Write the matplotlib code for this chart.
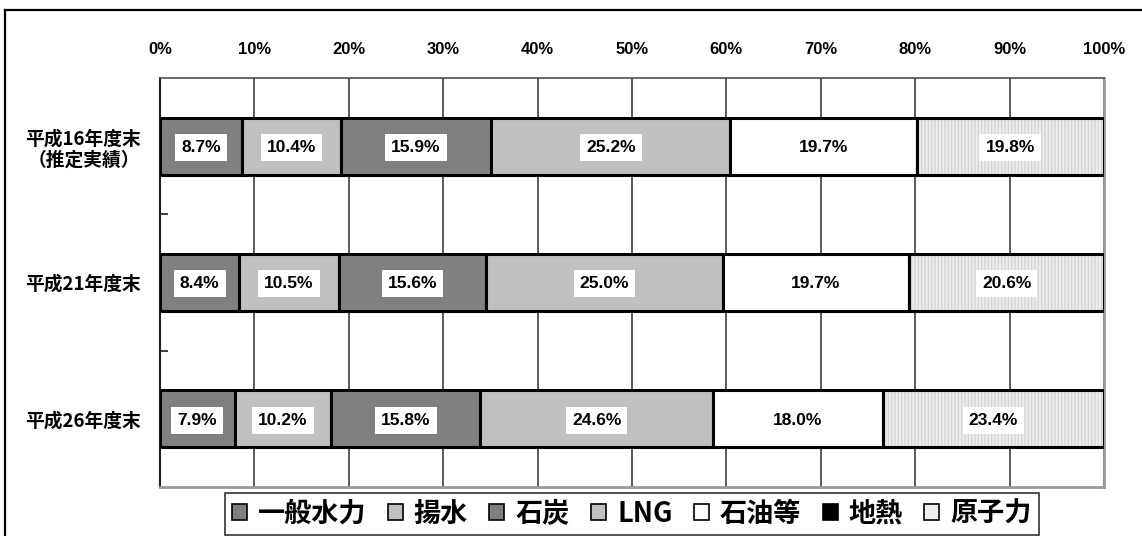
import numpy as np
import matplotlib.pyplot as plt
from matplotlib.patches import Patch
from matplotlib.lines import Line2D

# data
years = ['平成16年度末\n（推定実績）', '平成21年度末', '平成26年度末']
sources = ['一般水力', '揚水', '石炭', 'LNG', '石油等', '地熱', '原子力']
hydro = [8.7, 8.4, 7.9]
pumped = [10.4, 10.5, 10.2]
coal = [15.9, 15.6, 15.8]
lng = [25.2, 25.0, 24.6]
oil = [19.7, 19.7, 18.0]
geothermal = [0.0, 0.0, 0.0]
nuclear = [19.8, 20.6, 23.4]
xticks = [0, 10, 20, 30, 40, 50, 60, 70, 80, 90, 100]

colors = ['#808080', '#c0c0c0', '#808080', '#c0c0c0', '#ffffff', '#000000', '#eeeeee']
hatches = [None, None, None, None, None, None, '|||||']

CJK = ['Noto Sans CJK JP', 'DejaVu Sans']
NUM = ['Liberation Sans', 'DejaVu Sans']

series = np.array([hydro, pumped, coal, lng, oil, geothermal, nuclear])
totals = series.sum(axis=0)
shares = series / totals * 100  # 100% stacked, like the original

fig = plt.figure(figsize=(11.42, 5.36), dpi=100)
ax = fig.add_axes([160 / 1142, 49 / 536, 944 / 1142, 409 / 536])

y = np.arange(len(years))
left = np.zeros(len(years))
for i, name in enumerate(sources):
    w = shares[i]
    if hatches[i]:
        ax.barh(y, w, left=left, height=0.42, color=colors[i], hatch=hatches[i],
                edgecolor='#d4d4d4', linewidth=0, zorder=3)
        ax.barh(y, w, left=left, height=0.42, fill=False, edgecolor='black',
                linewidth=2.2, zorder=4)
    else:
        ax.barh(y, w, left=left, height=0.42, color=colors[i], edgecolor='black',
                linewidth=2.2, zorder=3)
    for j in range(len(years)):
        if series[i][j] > 0:
            ax.text(left[j] + w[j] / 2, y[j] + 0.01, f'{series[i][j]:.1f}%', ha='center',
                    va='center', fontsize=12.5, fontweight='bold', family=NUM, zorder=5,
                    bbox=dict(boxstyle='square,pad=0.35', fc='white', ec='none'))
    left = left + w

ax.set_xlim(0, 100)
ax.set_ylim(len(years) - 0.5, -0.5)
ax.set_xticks(xticks)
ax.set_xticklabels([f'{t}%' for t in xticks], fontsize=12, fontweight='bold', family=NUM)
ax.xaxis.tick_top()
ax.tick_params(axis='x', length=0, pad=15)
ax.grid(axis='x', color='#404040', linewidth=1.2, zorder=0)
ax.set_axisbelow(True)

ax.set_yticks(y)
ax.set_yticklabels(years, fontsize=13.5, fontweight='bold', family=CJK, linespacing=1.2)
ax.tick_params(axis='y', which='major', length=0, pad=14)
ax.set_yticks(y[:-1] + 0.5, minor=True)
ax.tick_params(axis='y', which='minor', direction='in', length=6, width=1.2, color='#202020')

ax.spines['left'].set_color('#202020')
ax.spines['left'].set_linewidth(1.5)
ax.spines['top'].set_color('#505050')
ax.spines['top'].set_linewidth(1.2)
for s in ['right', 'bottom']:
    ax.spines[s].set_color('#9a9a9a')
    ax.spines[s].set_linewidth(2)

# outer frame of the figure (cut at the right and bottom)
fig.add_artist(Line2D([5 / 1142, 1.01], [1 - 10 / 536, 1 - 10 / 536], transform=fig.transFigure,
                      color='black', linewidth=1.6))
fig.add_artist(Line2D([5 / 1142, 5 / 1142], [1 - 10 / 536, -0.01], transform=fig.transFigure,
                      color='black', linewidth=1.6))

handles = [Patch(facecolor=c, edgecolor='black', linewidth=1.2) for c in colors]
leg = fig.legend(handles, sources, loc='upper left', bbox_to_anchor=(225 / 1142, 1 - 493 / 536),
                 ncol=len(sources), frameon=True, fancybox=False, edgecolor='black',
                 prop=dict(family=CJK, size=19.5, weight='bold'), handlelength=0.55,
                 handleheight=0.55, handletextpad=0.42, columnspacing=0.78, borderpad=0.25,
                 borderaxespad=0)
leg.get_frame().set_linewidth(1.2)

fig.savefig('out.png', dpi=100)
